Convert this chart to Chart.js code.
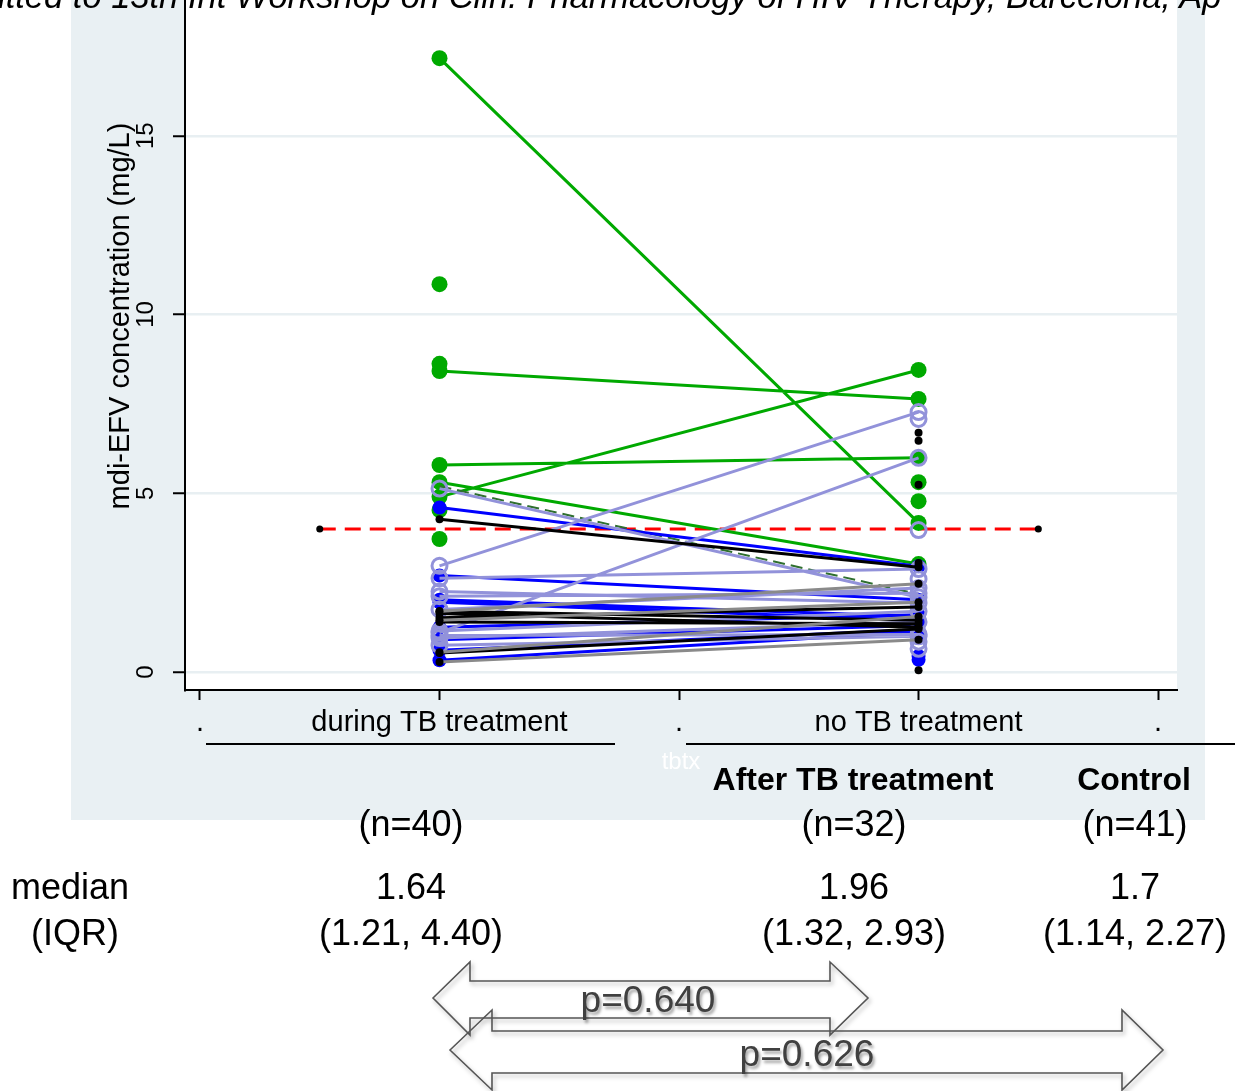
<!DOCTYPE html>
<html lang="en">
<head>
<meta charset="UTF-8">
<title>mdi-EFV concentration during and after TB treatment</title>
<script src="https://cdn.jsdelivr.net/npm/chart.js"></script>
<style>
  body { margin: 0; background: #fff; font-family: "Liberation Sans", Arial, sans-serif; }
  #page { position: relative; width: 1235px; height: 1091px; overflow: hidden; }
  #efvChart { position: absolute; left: 0; top: -58px; }
  .note { position: absolute; left: -2px; top: -21px; font-size: 34.5px; font-style: italic; line-height: 1; white-space: nowrap; }
  .rule { position: absolute; height: 2px; background: #000; }
  .lbl { position: absolute; white-space: nowrap; transform: translate(-50%, -50%); font-size: 36px; line-height: 1; color: #000; }
  .head { font-size: 32px; font-weight: bold; }
  .pval { color: #404040; font-size: 37px; text-shadow: 2px 3px 3px rgba(0,0,0,0.35); }
  svg { position: absolute; left: 0; top: 0; }
</style>
</head>
<body>
<div id="page">
  <canvas id="efvChart" width="1235" height="1149"></canvas>
  <div class="note">itted to 13th Int Workshop on Clin. Pharmacology of HIV Therapy, Barcelona, Ap</div>
  <div class="rule" style="left:206px; width:409px; top:743px"></div>
  <div class="rule" style="left:686px; width:549px; top:743px"></div>
  <svg width="1235" height="1091">
    <defs>
      <filter id="shade" x="-5%" y="-20%" width="110%" height="140%">
        <feDropShadow dx="2" dy="3" stdDeviation="2" flood-color="#000" flood-opacity="0.3"/>
      </filter>
    </defs>
    <g fill="none" stroke="#555" stroke-width="1.6" filter="url(#shade)">
      <polygon points="433,998 470,962 470,981 830,981 830,962 868,998 830,1035 830,1018 470,1018 470,1035"/>
      <polygon points="450,1050 492,1010 492,1031 1122,1031 1122,1010 1163,1050 1122,1090 1122,1073 492,1073 492,1090"/>
    </g>
  </svg>
</div>

<script>
    // axis setup
    const xLabels = ['.', 'during TB treatment', '.', 'no TB treatment', '.'];
    const xTickValues = [0, 1, 2, 3, 4];
    const yTickValues = [0, 5, 10, 15];
    const duringX = 1;
    const afterX = 3;

    // paired mdi-EFV values (mg/L), null = no sample in that period
    const greenDuring    = [17.17, 8.42, 5.79, 4.90, 5.31, 10.85, 8.62, 4.53, 3.72, null, null];
    const greenAfter     = [4.17, 7.64, 5.99, 8.45, 3.02, null, null, null, null, 5.31, 4.78];
    const blueDuring     = [4.60, 2.70, 2.02, 0.90, 0.61, 0.33, 1.95, 1.25, null, null, null];
    const blueAfter      = [2.96, 2.02, 1.55, 1.30, 1.18, 1.12, 1.45, 1.60, 0.34, 0.45, 0.95];
    const lavenderDuring = [5.13, 2.97, 1.10, 2.62, 2.25, 2.12, 1.15, 0.95, 1.02, 1.75, 0.75, null, null, null, null, null];
    const lavenderAfter  = [2.09, 7.27, 5.99, 2.88, 1.93, 2.20, 1.70, 1.40, 1.05, 2.35, 1.00, 7.08, 3.97, 2.60, 0.85, 0.65];
    const blackDuring    = [4.27, 1.64, 1.52, 1.40, 0.53, 1.70, null, null, null, null, null];
    const blackAfter     = [2.93, 1.25, 1.82, 1.35, 1.20, 1.45, 6.69, 6.47, 5.24, 3.05, 0.05];
    const grayDuring     = [1.70, 0.28, 1.45, 0.55];
    const grayAfter      = [2.47, 0.90, 1.95, 1.55];
    const dashedDuring   = [5.20];
    const dashedAfter    = [2.18];

    // reference level
    const cutoffValue = 4.0;
    const cutoffRange = [0.5, 3.5];

    // summary table under the graph
    const tableGroups = ['', 'After TB treatment', 'Control'];
    const tableCounts = [40, 32, 41];
    const tableMedians = ['1.64', '1.96', '1.7'];
    const tableIQR = ['(1.21, 4.40)', '(1.32, 2.93)', '(1.14, 2.27)'];
    const pValues = ['0.640', '0.626'];

    function pairData(during, after) {
        const pts = [];
        during.forEach((d, i) => {
            pts.push({ x: duringX, y: d }, { x: afterX, y: after[i] }, { x: 2, y: null });
        });
        return pts;
    }

    function pairSet(during, after, line, marker) {
        return Object.assign({
            data: pairData(during, after),
            showLine: true,
            borderColor: line,
            borderWidth: 3,
            spanGaps: false,
            clip: false
        }, marker);
    }

    const panelPlugin = {
        id: 'panel',
        beforeDraw(chart) {
            const { ctx, chartArea } = chart;
            ctx.save();
            ctx.fillStyle = '#e9f0f3';
            ctx.fillRect(71, 0, 1134, 878);
            ctx.fillStyle = '#ffffff';
            ctx.fillRect(chartArea.left, chartArea.top, chartArea.right - chartArea.left, chartArea.bottom - chartArea.top);
            ctx.restore();
        }
    };

    const dot = { pointRadius: 4, pointBackgroundColor: '#000', pointBorderWidth: 0 };

    const datasets = [
        pairSet(grayDuring, grayAfter, '#8a8a8a', dot),
        pairSet(blackDuring, blackAfter, '#000000', dot),
        pairSet(lavenderDuring, lavenderAfter, '#9292da',
            { pointRadius: 7.5, pointBackgroundColor: 'rgba(0,0,0,0)', pointBorderColor: '#9292da', pointBorderWidth: 3 }),
        pairSet(blueDuring, blueAfter, '#0000ff',
            { pointRadius: 7, pointBackgroundColor: '#0000ff', pointBorderWidth: 0 }),
        pairSet(dashedDuring, dashedAfter, '#2f6f2f', { borderWidth: 2, borderDash: [12, 6], pointRadius: 0 }),
        pairSet(greenDuring, greenAfter, '#00a900',
            { pointRadius: 8, pointBackgroundColor: '#00a900', pointBorderWidth: 0 }),
        {
            data: cutoffRange.map(x => ({ x: x, y: cutoffValue })),
            showLine: true,
            borderColor: '#ff0000',
            borderWidth: 3,
            borderDash: [16, 9],
            pointRadius: 3.5,
            pointBackgroundColor: '#000',
            pointBorderWidth: 0
        }
    ];

    const ctx = document.getElementById('efvChart').getContext('2d');
    new Chart(ctx, {
        type: 'scatter',
        data: { datasets: datasets },
        plugins: [panelPlugin],
        options: {
            responsive: false,
            animation: false,
            layout: { autoPadding: false, padding: { left: 0, top: 0, right: 58, bottom: 311 } },
            plugins: { legend: { display: false }, tooltip: { enabled: false } },
            scales: {
                x: {
                    type: 'linear',
                    min: -0.0626,
                    max: 4.079,
                    afterBuildTicks: s => { s.ticks = xTickValues.map(v => ({ value: v })); },
                    afterFit: s => { s.height = 90; s.paddingLeft = 0; s.paddingRight = 0; },
                    ticks: {
                        callback: v => xLabels[v],
                        autoSkip: false,
                        color: '#000',
                        padding: 6,
                        maxRotation: 0,
                        font: { family: '"Liberation Sans", Arial, sans-serif', size: 29 }
                    },
                    grid: { drawOnChartArea: false, tickLength: 10, tickColor: '#000', tickWidth: 2 },
                    border: { color: '#000', width: 2 },
                    title: {
                        display: true,
                        text: 'tbtx',
                        color: '#ffffff',
                        padding: { top: 0, bottom: 3 },
                        font: { family: '"Liberation Sans", Arial, sans-serif', size: 24 }
                    }
                },
                y: {
                    min: -0.503,
                    max: 20.42,
                    afterBuildTicks: s => { s.ticks = yTickValues.map(v => ({ value: v })); },
                    afterFit: s => { s.width = 185; s.paddingTop = 0; s.paddingBottom = 0; },
                    ticks: {
                        color: '#000',
                        minRotation: 90,
                        maxRotation: 90,
                        crossAlign: 'center',
                        padding: 13,
                        font: { family: '"Liberation Sans", Arial, sans-serif', size: 24 }
                    },
                    grid: { color: '#e8eff2', lineWidth: 2.5, tickLength: 12, tickColor: '#000', tickWidth: 2 },
                    border: { color: '#000', width: 2 },
                    title: {
                        display: true,
                        text: 'mdi-EFV concentration (mg/L)',
                        color: '#000',
                        padding: { top: 104, bottom: 0 },
                        font: { family: '"Liberation Sans", Arial, sans-serif', size: 29 }
                    }
                }
            }
        }
    });

    // text table below the graph
    const page = document.getElementById('page');
    function addText(text, x, y, cls) {
        const el = document.createElement('div');
        el.className = 'lbl' + (cls ? ' ' + cls : '');
        el.textContent = text;
        el.style.left = x + 'px';
        el.style.top = y + 'px';
        page.appendChild(el);
    }
    const colX = [411, 854, 1135];
    tableGroups.forEach((g, i) => {
        if (g) addText(g, colX[i] - 1, 779, 'head');
        addText('(n=' + tableCounts[i] + ')', colX[i], 824);
        addText(tableMedians[i], colX[i], 887);
        addText(tableIQR[i], colX[i], 933);
    });
    addText('median', 70, 887);
    addText('(IQR)', 75, 933);
    addText('p=' + pValues[0], 648, 999, 'pval');
    addText('p=' + pValues[1], 807, 1053, 'pval');
</script>
</body>
</html>
